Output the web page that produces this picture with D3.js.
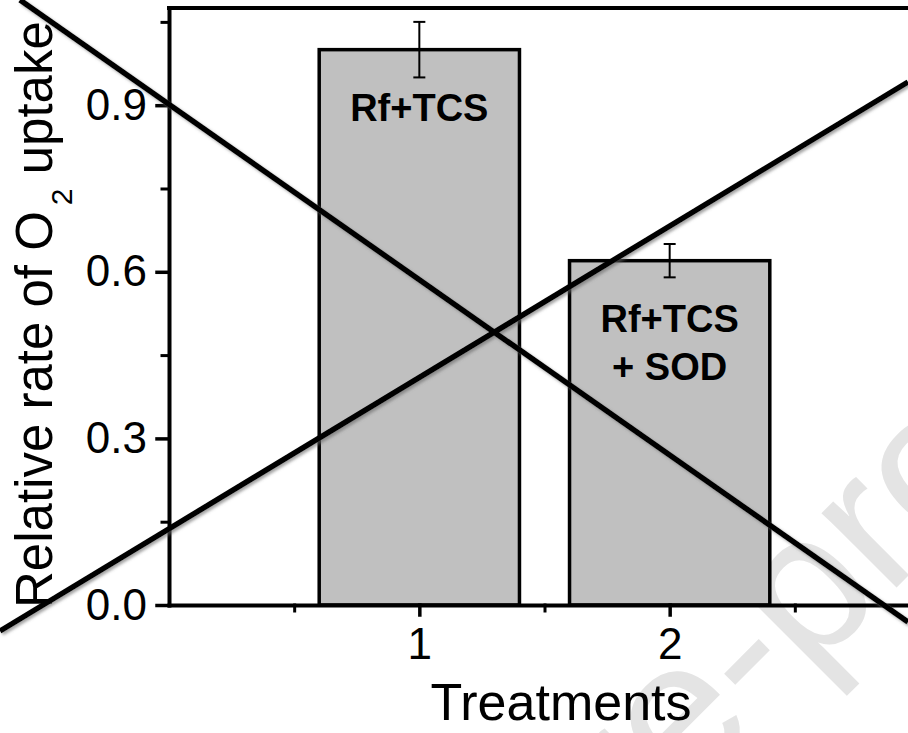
<html lang="en">
<head>
<meta charset="utf-8">
<title>Relative rate of O2 uptake</title>
<style>
  body { margin: 0; background: white; }
  svg { display: block; font-family: Arial, "Liberation Sans", Helvetica, sans-serif; }
  .axis path, .axis line { stroke: #000; stroke-linecap: square; }
  .axis text { font-size: 44px; fill: #000; }
  .barlabel { font-size: 38px; font-weight: bold; text-anchor: middle; }
</style>
</head>
<body>
<div id="chart"></div>
<script src="https://d3js.org/d3.v7.min.js"></script>
<script>
// data
var treatments = [1, 2];
var rates = [1.0, 0.62];
var errors = [0.05, 0.03];
var barLabels = [["Rf+TCS"], ["Rf+TCS", "+ SOD"]];
var yTicks = [0.0, 0.3, 0.6, 0.9];
var yMinor = [0.15, 0.45, 0.75, 1.05];
var xTicks = [1, 2];
var xMinor = [0.5, 1.5, 2.5];

var width = 908, height = 733;

var svg = d3.select("#chart").append("svg")
  .attr("width", width)
  .attr("height", height);

var defs = svg.append("defs");
defs.append("filter").attr("id", "shadow")
  .attr("x", "-5%").attr("y", "-5%").attr("width", "110%").attr("height", "110%")
  .append("feDropShadow")
  .attr("dx", 2).attr("dy", 2).attr("stdDeviation", 1.5)
  .attr("flood-color", "#666").attr("flood-opacity", 0.6);

var x = d3.scaleLinear().domain([0, 3]).range([169, 920]);
var y = d3.scaleLinear().domain([0, 1.075]).range([605, 8]);
var barW = 0.8;

// watermark
var wm = svg.append("g")
  .attr("transform", "translate(808,676) rotate(-45)")
  .style("font-size", "200px")
  .attr("fill", "#e4e4e4");
wm.append("text").attr("text-anchor", "end").text("Journal Pre-");
wm.append("text").attr("text-anchor", "start").text("proof");

// bars
svg.selectAll("rect.bar")
  .data(treatments)
  .enter().append("rect")
  .attr("class", "bar")
  .attr("x", function(d) { return x(d - barW / 2); })
  .attr("width", function(d) { return x(d + barW / 2) - x(d - barW / 2); })
  .attr("y", function(d, i) { return y(rates[i]); })
  .attr("height", function(d, i) { return y(0) - y(rates[i]); })
  .attr("fill", "#c0c0c0")
  .attr("stroke", "#000")
  .attr("stroke-width", 3.5);

// error bars
var eb = svg.selectAll("g.err")
  .data(treatments)
  .enter().append("g")
  .attr("class", "err")
  .attr("stroke", "#000")
  .attr("stroke-width", 2);
eb.append("line")
  .attr("x1", function(d) { return x(d); })
  .attr("x2", function(d) { return x(d); })
  .attr("y1", function(d, i) { return y(rates[i] + errors[i]); })
  .attr("y2", function(d, i) { return y(rates[i] - errors[i]); });
eb.append("line")
  .attr("x1", function(d) { return x(d) - 6; })
  .attr("x2", function(d) { return x(d) + 6; })
  .attr("y1", function(d, i) { return y(rates[i] + errors[i]); })
  .attr("y2", function(d, i) { return y(rates[i] + errors[i]); });
eb.append("line")
  .attr("x1", function(d) { return x(d) - 6; })
  .attr("x2", function(d) { return x(d) + 6; })
  .attr("y1", function(d, i) { return y(rates[i] - errors[i]); })
  .attr("y2", function(d, i) { return y(rates[i] - errors[i]); });

// labels inside bars
treatments.forEach(function(d, i) {
  var t = svg.append("text")
    .attr("class", "barlabel")
    .attr("x", x(d))
    .attr("y", y(rates[i]) + 71);
  barLabels[i].forEach(function(s, j) {
    t.append("tspan").attr("x", x(d)).attr("dy", j === 0 ? 0 : 48).text(s);
  });
});

// axes
var yAxis = svg.append("g").attr("class", "axis")
  .attr("transform", "translate(" + x(0) + ",0)")
  .call(d3.axisLeft(y).tickValues(yTicks).tickFormat(d3.format(".1f"))
    .tickSize(12).tickSizeOuter(0).tickPadding(10));
yAxis.select(".domain").attr("stroke-width", 4);
yAxis.selectAll(".tick line").attr("stroke-width", 3.5);

svg.append("g").attr("class", "axis")
  .attr("transform", "translate(" + x(0) + ",0)")
  .call(d3.axisLeft(y).tickValues(yMinor).tickFormat("").tickSize(7).tickSizeOuter(0))
  .call(function(g) { g.select(".domain").remove(); })
  .selectAll(".tick line").attr("stroke-width", 3);

var xAxis = svg.append("g").attr("class", "axis")
  .attr("transform", "translate(0," + y(0) + ")")
  .call(d3.axisBottom(x).tickValues(xTicks).tickFormat(d3.format("d"))
    .tickSize(10).tickSizeOuter(0).tickPadding(13));
xAxis.select(".domain").attr("stroke-width", 4);
xAxis.selectAll(".tick line").attr("stroke-width", 3.5);

svg.append("g").attr("class", "axis")
  .attr("transform", "translate(0," + y(0) + ")")
  .call(d3.axisBottom(x).tickValues(xMinor).tickFormat("").tickSize(6).tickSizeOuter(0))
  .call(function(g) { g.select(".domain").remove(); })
  .selectAll(".tick line").attr("stroke-width", 3);

// top frame
svg.append("line")
  .attr("x1", x(0)).attr("x2", x(3))
  .attr("y1", y(1.075)).attr("y2", y(1.075))
  .attr("stroke", "#000").attr("stroke-width", 4).attr("stroke-linecap", "square");

// axis titles
svg.append("text")
  .attr("x", 561).attr("y", 720)
  .attr("text-anchor", "middle")
  .style("font-size", "52px")
  .text("Treatments");

var yt = svg.append("text")
  .attr("transform", "translate(52,608) rotate(-90)")
  .style("font-size", "51px");
yt.append("tspan").text("Relative rate of O");
yt.append("tspan").attr("dx", 6).attr("dy", 20).style("font-size", "30px").text("2");
yt.append("tspan").attr("dy", -20).text(" uptake");

// cross-out lines over the figure
svg.append("g")
  .attr("stroke", "#000")
  .attr("stroke-width", 5.5)
  .attr("filter", "url(#shadow)")
  .selectAll("line")
  .data([[20, 0, 908, 622], [0, 631, 908, 82]])
  .enter().append("line")
  .attr("x1", function(d) { return d[0]; })
  .attr("y1", function(d) { return d[1]; })
  .attr("x2", function(d) { return d[2]; })
  .attr("y2", function(d) { return d[3]; });
</script>
</body>
</html>
